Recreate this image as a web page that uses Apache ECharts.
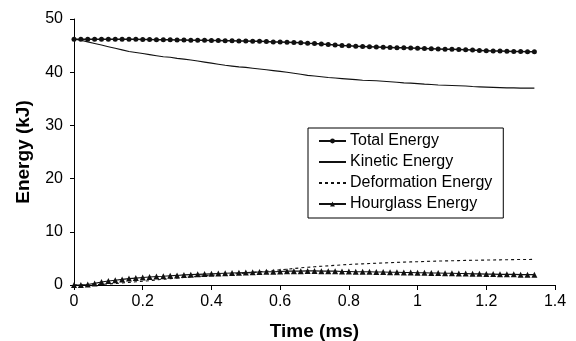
<!DOCTYPE html>
<html>
<head>
<meta charset="utf-8">
<script src="https://cdn.jsdelivr.net/npm/echarts@6/dist/echarts.min.js"></script>
<style>html,body{margin:0;padding:0;background:#fff;}#c{width:576px;height:341px;}</style>
</head>
<body>
<div id="c"></div>
<script>
var time = [0.00,0.02,0.04,0.06,0.08,0.10,0.12,0.14,0.16,0.18,
  0.20,0.22,0.24,0.26,0.28,0.30,0.32,0.34,0.36,0.38,
  0.40,0.42,0.44,0.46,0.48,0.50,0.52,0.54,0.56,0.58,
  0.60,0.62,0.64,0.66,0.68,0.70,0.72,0.74,0.76,0.78,
  0.80,0.82,0.84,0.86,0.88,0.90,0.92,0.94,0.96,0.98,
  1.00,1.02,1.04,1.06,1.08,1.10,1.12,1.14,1.16,1.18,
  1.20,1.22,1.24,1.26,1.28,1.30,1.32,1.34];

var totalEnergy = [46.2,46.2,46.2,46.2,46.2,46.2,46.2,46.2,46.2,46.2,
  46.15,46.15,46.1,46.1,46.1,46.05,46.05,46.0,46.0,46.0,
  45.95,45.95,45.9,45.9,45.85,45.85,45.8,45.8,45.75,45.7,
  45.7,45.65,45.6,45.55,45.45,45.4,45.3,45.2,45.1,45.0,
  44.95,44.9,44.85,44.8,44.75,44.7,44.65,44.6,44.6,44.55,
  44.5,44.45,44.4,44.35,44.3,44.3,44.25,44.2,44.15,44.1,
  44.05,44.0,44.0,43.95,43.9,43.9,43.85,43.85];

var kineticEnergy = [46.2,46.0,45.7,45.4,45.1,44.8,44.5,44.2,43.9,43.7,
  43.5,43.3,43.1,42.9,42.8,42.6,42.45,42.3,42.1,41.9,
  41.7,41.5,41.3,41.15,41.0,40.9,40.75,40.6,40.45,40.3,
  40.15,40.0,39.8,39.6,39.4,39.3,39.15,39.0,38.9,38.8,
  38.7,38.6,38.5,38.45,38.4,38.3,38.2,38.1,38.0,37.95,
  37.85,37.75,37.7,37.6,37.55,37.5,37.45,37.4,37.3,37.25,
  37.2,37.15,37.1,37.05,37.05,37.0,37.0,37.0];

var deformationEnergy = [0,0,0.03,0.08,0.12,0.2,0.28,0.38,0.5,0.6,
  0.7,0.82,0.95,1.08,1.2,1.32,1.42,1.52,1.62,1.72,
  1.82,1.9,1.98,2.06,2.15,2.25,2.35,2.48,2.6,2.72,
  2.85,2.98,3.1,3.22,3.33,3.43,3.52,3.6,3.7,3.78,
  3.86,3.92,3.98,4.04,4.1,4.15,4.2,4.25,4.3,4.34,
  4.38,4.42,4.46,4.5,4.53,4.56,4.59,4.62,4.65,4.67,
  4.69,4.71,4.73,4.75,4.77,4.79,4.8,4.82];

var hourglassEnergy = [0,0.02,0.1,0.3,0.55,0.75,0.9,1.05,1.2,1.3,
  1.4,1.5,1.6,1.65,1.75,1.8,1.9,1.95,2.0,2.05,
  2.1,2.15,2.2,2.25,2.3,2.35,2.4,2.45,2.5,2.5,
  2.55,2.6,2.6,2.6,2.65,2.65,2.6,2.6,2.6,2.55,
  2.55,2.5,2.5,2.5,2.45,2.45,2.4,2.4,2.35,2.35,
  2.3,2.3,2.25,2.25,2.2,2.2,2.15,2.15,2.1,2.1,
  2.05,2.05,2.0,2.0,2.0,1.95,1.95,1.95];

var seriesNames = ['Total Energy','Kinetic Energy','Deformation Energy','Hourglass Energy'];

function pairs(ys){ return time.map(function(t,i){ return [t, ys[i]]; }); }

var FONT = 'Liberation Sans, Arial, sans-serif';
var chart = echarts.init(document.getElementById('c'), null, {renderer:'canvas'});
chart.setOption({
  animation: false,
  backgroundColor: '#fff',
  textStyle: {fontFamily: FONT, color: '#000'},
  grid: {left: 74, right: 21, top: 19, bottom: 56, outerBoundsMode: 'none', containLabel: false},
  legend: {
    orient: 'vertical',
    left: 308, top: 128,
    data: [
      {name: seriesNames[0]},
      {name: seriesNames[1], itemStyle: {opacity: 0}},
      {name: seriesNames[2], itemStyle: {opacity: 0}},
      {name: seriesNames[3]}
    ],
    itemWidth: 27, itemHeight: 6, itemGap: 5,
    padding: [5, 11, 6, 10],
    borderColor: '#000', borderWidth: 1,
    textStyle: {fontFamily: FONT, fontSize: 16, color: '#000', padding: [0,0,0,-1]}
  },
  xAxis: [{
    type: 'value', min: 0, max: 1.4, interval: 0.2,
    name: 'Time (ms)', nameLocation: 'middle', nameGap: 37,
    nameTextStyle: {fontFamily: FONT, fontSize: 19, fontWeight: 'bold', color: '#000'},
    axisLine: {show: true, onZero: false, lineStyle: {color: '#000', width: 1}},
    axisTick: {show: true, length: 5, lineStyle: {color: '#000'}},
    axisLabel: {fontFamily: FONT, fontSize: 16, color: '#000', margin: 9,
      formatter: function(v){ return String(Math.round(v*10)/10); }},
    splitLine: {show: false}
  }, {
    type: 'value', position: 'top', min: 0, max: 1.4,
    axisLine: {show: true, lineStyle: {color: '#000', width: 1}},
    axisTick: {show: false}, axisLabel: {show: false}, splitLine: {show: false}
  }],
  yAxis: {
    type: 'value', min: 0, max: 50, interval: 10,
    name: 'Energy (kJ)', nameLocation: 'middle', nameGap: 41, nameRotate: 90,
    nameTextStyle: {fontFamily: FONT, fontSize: 19, fontWeight: 'bold', color: '#000'},
    axisLine: {show: true, lineStyle: {color: '#000', width: 1}},
    axisTick: {show: true, length: 4, lineStyle: {color: '#000'}},
    axisLabel: {fontFamily: FONT, fontSize: 16, color: '#000', margin: 11},
    splitLine: {show: false}
  },
  series: [
    {name: seriesNames[0], type: 'line', data: pairs(totalEnergy),
     symbol: 'circle', symbolSize: 5, showSymbol: true,
     lineStyle: {color: '#111', width: 1.5}, itemStyle: {color: '#111'}},
    {name: seriesNames[1], type: 'line', data: pairs(kineticEnergy),
     symbol: 'none', lineStyle: {color: '#111', width: 1.1}, itemStyle: {color: '#111'}},
    {name: seriesNames[2], type: 'line', data: pairs(deformationEnergy),
     symbol: 'none', lineStyle: {color: '#111', width: 1.1, type: [3,3]}, itemStyle: {color: '#111'}},
    {name: seriesNames[3], type: 'line', data: pairs(hourglassEnergy),
     symbol: 'triangle', symbolSize: 6, showSymbol: true,
     lineStyle: {color: '#111', width: 1.1}, itemStyle: {color: '#111'}}
  ]
});
</script>
</body>
</html>
